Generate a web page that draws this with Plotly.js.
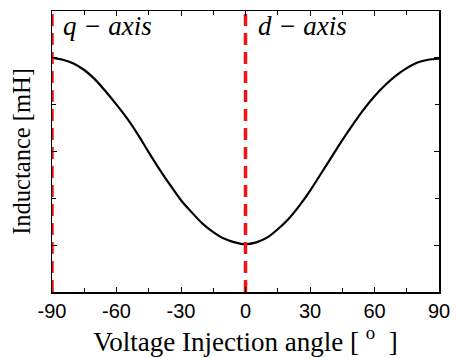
<!DOCTYPE html>
<html>
<head>
<meta charset="utf-8">
<script src="https://cdn.plot.ly/plotly-3.0.1.min.js"></script>
<style>html,body{margin:0;padding:0;background:#fff;}#chart{width:456px;height:358px;}</style>
</head>
<body>
<div id="chart"></div>
<script>
// Data
const angle = [-90, -85, -80, -75, -70, -65, -60, -55, -50, -45, -40, -35, -30, -25, -20, -15, -10, -5, 0,
               5, 10, 15, 20, 25, 30, 35, 40, 45, 50, 55, 60, 65, 70, 75, 80, 85, 90];
const inductance = [3.00, 2.98, 2.94, 2.87, 2.77, 2.64, 2.50, 2.35, 2.18, 1.99, 1.81, 1.64, 1.48, 1.35, 1.23, 1.14, 1.07, 1.03, 1.01,
                    1.03, 1.08, 1.17, 1.28, 1.42, 1.58, 1.76, 1.94, 2.12, 2.29, 2.45, 2.59, 2.71, 2.81, 2.89, 2.95, 2.98, 2.99];
const qAxisX = [-90, -90];
const dAxisX = [0, 0];
const markerY = [0.5, 3.5];
const xTicks = [-90, -60, -30, 0, 30, 60, 90];
const yTicks = [1, 2, 3];
const labels = ["q − axis", "d − axis"];

const SERIF = "'Liberation Serif', 'Times New Roman', Times, serif";
const SANS = "'Liberation Sans', Arial, Helvetica, sans-serif";

const traces = [
  {x: angle, y: inductance, mode: 'lines', line: {color: '#000', width: 2.2, shape: 'spline', smoothing: 0.6}, hoverinfo: 'skip'},
  {x: qAxisX, y: markerY, mode: 'lines', line: {color: '#f21414', width: 3.5, dash: '12px,7px'}, hoverinfo: 'skip'},
  {x: dAxisX, y: markerY, mode: 'lines', line: {color: '#f21414', width: 3.5, dash: '12px,7px'}, hoverinfo: 'skip'}
];

const layout = {
  width: 456, height: 358,
  margin: {l: 52, r: 17, t: 11, b: 66},
  showlegend: false,
  paper_bgcolor: '#fff', plot_bgcolor: '#fff',
  xaxis: {
    range: [-90, 90], tickvals: xTicks, ticktext: xTicks.map(String),
    ticks: 'inside', ticklen: 5, tickwidth: 1, tickcolor: '#000',
    minor: {dtick: 15, ticks: 'inside', ticklen: 4, tickcolor: '#000'},
    showline: true, linecolor: '#000', linewidth: 1.5, mirror: 'ticks',
    showgrid: false, zeroline: false,
    tickfont: {family: SANS, size: 20, color: '#000'},
    title: {text: 'Voltage Injection angle [\u00A0<sup>o</sup>\u00A0\u00A0]', font: {family: SERIF, size: 27, color: '#000'}, standoff: 11}
  },
  yaxis: {
    range: [0.5, 3.5], tickvals: yTicks, showticklabels: false,
    ticks: 'inside', ticklen: 5, tickwidth: 1, tickcolor: '#000',
    minor: {dtick: 0.5, ticks: 'inside', ticklen: 4, tickcolor: '#000'},
    showline: true, linecolor: '#000', linewidth: 1.5, mirror: 'ticks',
    showgrid: false, zeroline: false,
    title: {text: 'Inductance [mH]', font: {family: SERIF, size: 24.5, color: '#000'}, standoff: 13}
  },
  annotations: [
    {xref: 'x', yref: 'paper', x: qAxisX[0], y: 1, xanchor: 'left', yanchor: 'top', xshift: 9, yshift: 2, showarrow: false,
     text: '<i>' + labels[0] + '</i>', font: {family: SERIF, size: 27, color: '#000'}},
    {xref: 'x', yref: 'paper', x: dAxisX[0], y: 1, xanchor: 'left', yanchor: 'top', xshift: 10, yshift: 2, showarrow: false,
     text: '<i>' + labels[1] + '</i>', font: {family: SERIF, size: 27, color: '#000'}}
  ]
};

Plotly.newPlot('chart', traces, layout, {staticPlot: true, displayModeBar: false});
</script>
</body>
</html>
